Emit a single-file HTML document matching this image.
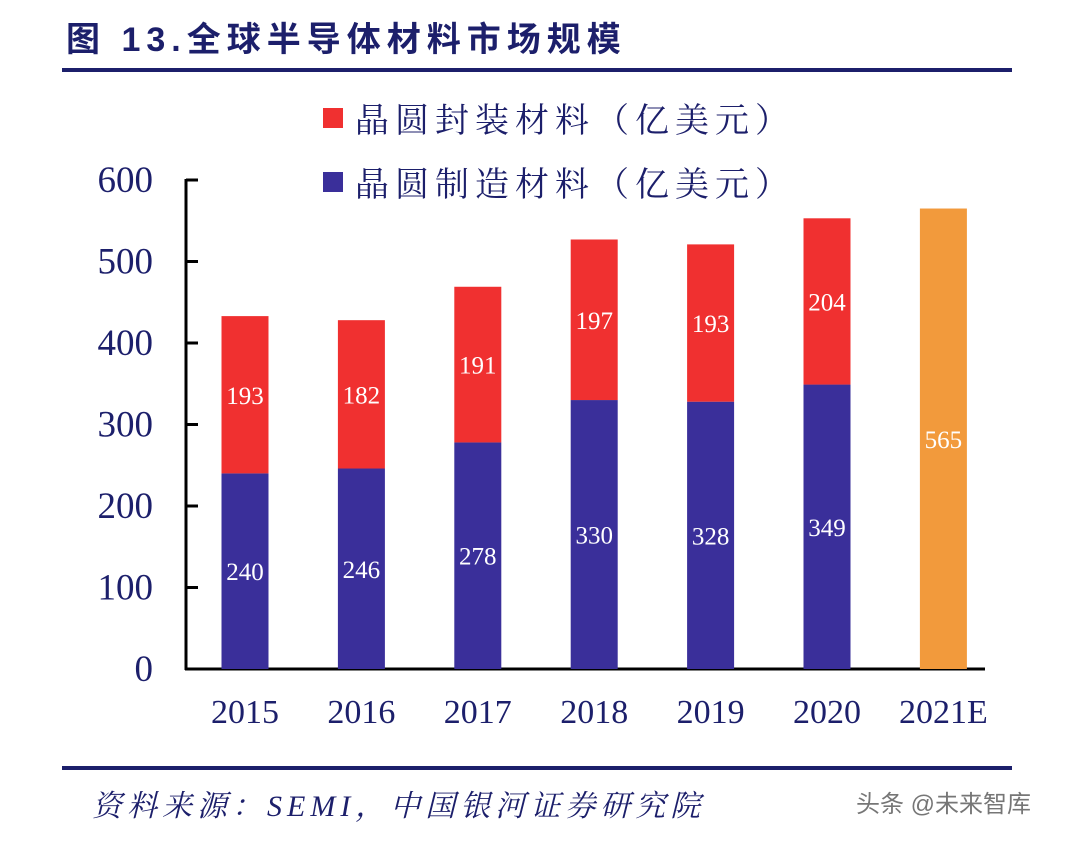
<!DOCTYPE html>
<html><head><meta charset="utf-8"><style>
body{margin:0;background:#fff;width:1080px;height:841px;overflow:hidden}
svg text{font-family:"Liberation Serif","Noto Serif CJK SC",serif}
</style></head><body>
<svg id="c" width="1080" height="841" xmlns="http://www.w3.org/2000/svg">
<text x="66" y="51" font-size="34" font-weight="bold" fill="#1c1f6b" letter-spacing="6" style="font-family:'Liberation Sans','Noto Sans CJK SC',sans-serif">图 13.全球半导体材料市场规模</text>
<rect x="62" y="68" width="950" height="4" fill="#1c1f6b"/>
<rect x="62" y="766" width="950" height="4" fill="#1c1f6b"/>
<text x="92" y="816" font-size="30" font-style="italic" fill="#1c1f6b" letter-spacing="5">资料来源：SEMI，中国银河证券研究院</text>
<text x="856" y="812" font-size="24" fill="#555" opacity="0.8" style="font-family:'Liberation Sans','Noto Sans CJK SC',sans-serif">头条 @未来智库</text>
<rect x="323" y="108" width="20" height="20" fill="#f03030"/>
<text x="355" y="132" font-size="34" fill="#1c1f6b" letter-spacing="6">晶圆封装材料（亿美元）</text>
<rect x="323" y="172" width="20" height="20" fill="#3a2f9a"/>
<text x="355" y="196" font-size="34" fill="#1c1f6b" letter-spacing="6">晶圆制造材料（亿美元）</text>
<g id="plot"></g>
</svg>
<script>
const categories=["2015","2016","2017","2018","2019","2020","2021E"];
const fabValues=[240,246,278,330,328,349,null];
const packValues=[193,182,191,197,193,204,null];
const totalValues=[null,null,null,null,null,null,565];
const yTicks=[0,100,200,300,400,500,600];
const NS="http://www.w3.org/2000/svg";
const g=document.getElementById('plot');
const y0=669,yTop=180,yMax=600;
const y=v=>y0-v*(y0-yTop)/yMax;
const x=i=>245+i*116.4;
const bw=47;
function el(t,a,txt){const e=document.createElementNS(NS,t);for(const k in a)e.setAttribute(k,a[k]);if(txt!=null)e.textContent=txt;g.appendChild(e);return e;}
let e=el('line',{x1:186,y1:y(600)-1,x2:186,y2:y0+1,stroke:'#000','stroke-width':3});


e=el('line',{x1:185,y1:y0,x2:985,y2:y0,stroke:'#000','stroke-width':3});


yTicks.forEach(t=>{
 let l=el('line',{x1:186,y1:y(t),x2:198,y2:y(t),stroke:'#000','stroke-width':3});
 
 
 let tx=el('text',{x:153,y:y(t)+12,'font-size':37,'text-anchor':'end',fill:'#1c1f6b'},String(t));
 
 
});
categories.forEach((c,i)=>{
 let cx=x(i);
 let tx=el('text',{x:cx,y:723,'font-size':34,'text-anchor':'middle',fill:'#1c1f6b'},c);
 
 
 if(fabValues[i]!=null){
  let f=fabValues[i],p=packValues[i];
  let r=el('rect',{x:cx-bw/2,y:y(f),width:bw,height:y0-y(f),fill:'#3a2f9a'});
  
  
  let r2=el('rect',{x:cx-bw/2,y:y(f+p),width:bw,height:y(f)-y(f+p),fill:'#f03030'});
  
  
  let l1=el('text',{x:cx,y:(y(f)+y0)/2+9,'font-size':25,'text-anchor':'middle',fill:'#fff'},String(f));
  
  
  let l2=el('text',{x:cx,y:(y(f)+y(f+p))/2+9,'font-size':25,'text-anchor':'middle',fill:'#fff'},String(p));
  
  
 } else {
  let t=totalValues[i];
  let r=el('rect',{x:cx-bw/2,y:y(t),width:bw,height:y0-y(t),fill:'#f29a3c'});
  
  
  let l=el('text',{x:cx,y:(y(t)+y0)/2+9,'font-size':25,'text-anchor':'middle',fill:'#fff'},String(t));
  
  
 }
});
</script>
</body></html>
